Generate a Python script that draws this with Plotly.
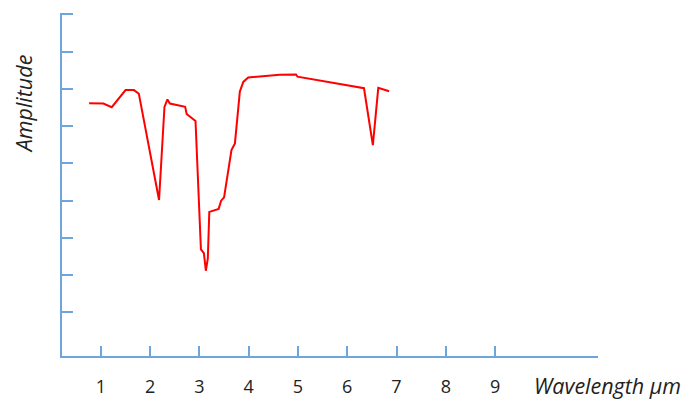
import plotly.graph_objects as go

# Wavelength (µm) and amplitude (arbitrary units)
wavelength = [0.76, 1.05, 1.22, 1.50, 1.67, 1.77, 2.18, 2.29, 2.35, 2.40, 2.71, 2.74,
              2.92, 3.03, 3.09, 3.13, 3.17, 3.20, 3.39, 3.44, 3.50, 3.65, 3.72, 3.82,
              3.89, 3.99, 4.63, 4.96, 4.99, 6.34, 6.52, 6.63, 6.85]
amplitude = [6.62, 6.61, 6.51, 6.97, 6.97, 6.87, 4.02, 6.52, 6.72, 6.61, 6.52, 6.33,
             6.14, 2.69, 2.59, 2.12, 2.45, 3.70, 3.78, 4.00, 4.09, 5.36, 5.54, 6.93,
             7.19, 7.31, 7.38, 7.39, 7.33, 7.02, 5.49, 7.03, 6.94]

x_ticks = [1, 2, 3, 4, 5, 6, 7, 8, 9]
x_tick_labels = ["1", "2", "3", "4", "5", "6", "7", "8", "9"]
y_ticks = [1, 2, 3, 4, 5, 6, 7, 8, 9]

x_title = "Wavelength µm"
y_title = "Amplitude"

axis_color = "#6CA6DD"
font_family = "Open Sans, Liberation Sans, sans-serif"

fig = go.Figure()
fig.add_trace(go.Scatter(
    x=wavelength, y=amplitude, mode="lines",
    line=dict(color="#FF0000", width=2),
    hoverinfo="skip", showlegend=False,
))

fig.update_layout(
    width=686, height=401,
    margin=dict(l=62, r=88, t=13, b=45, autoexpand=False),
    paper_bgcolor="white", plot_bgcolor="white",
    font=dict(family=font_family, color="#222222"),
    xaxis=dict(
        range=[0.21, 11.09], showgrid=False, zeroline=False,
        showline=True, linecolor=axis_color, linewidth=1.5,
        tickmode="array", tickvals=x_ticks, ticktext=x_tick_labels,
        ticks="inside", ticklen=10, tickwidth=1.5, tickcolor=axis_color,
        tickfont=dict(size=18, color="#222222"), ticklabelstandoff=14,
    ),
    yaxis=dict(
        range=[-0.17, 9.04], showgrid=False, zeroline=False,
        showline=True, linecolor=axis_color, linewidth=1.5,
        tickmode="array", tickvals=y_ticks, showticklabels=False,
        ticks="inside", ticklen=11, tickwidth=1.5, tickcolor=axis_color,
    ),
    annotations=[
        dict(text="<i>" + x_title + "</i>", xref="paper", yref="paper",
             x=1.159, y=-0.085, xanchor="right", yanchor="middle",
             showarrow=False, font=dict(size=21.5, color="#222222")),
        dict(text="<i>" + y_title + "</i>", xref="paper", yref="paper",
             x=-0.072, y=0.735, xanchor="center", yanchor="middle",
             textangle=-90, showarrow=False, font=dict(size=21.5, color="#222222")),
    ],
)

fig.write_html(
    "out.html",
    config={"displayModeBar": False},
    post_script="document.body.style.margin='0';document.body.style.padding='0';",
)
